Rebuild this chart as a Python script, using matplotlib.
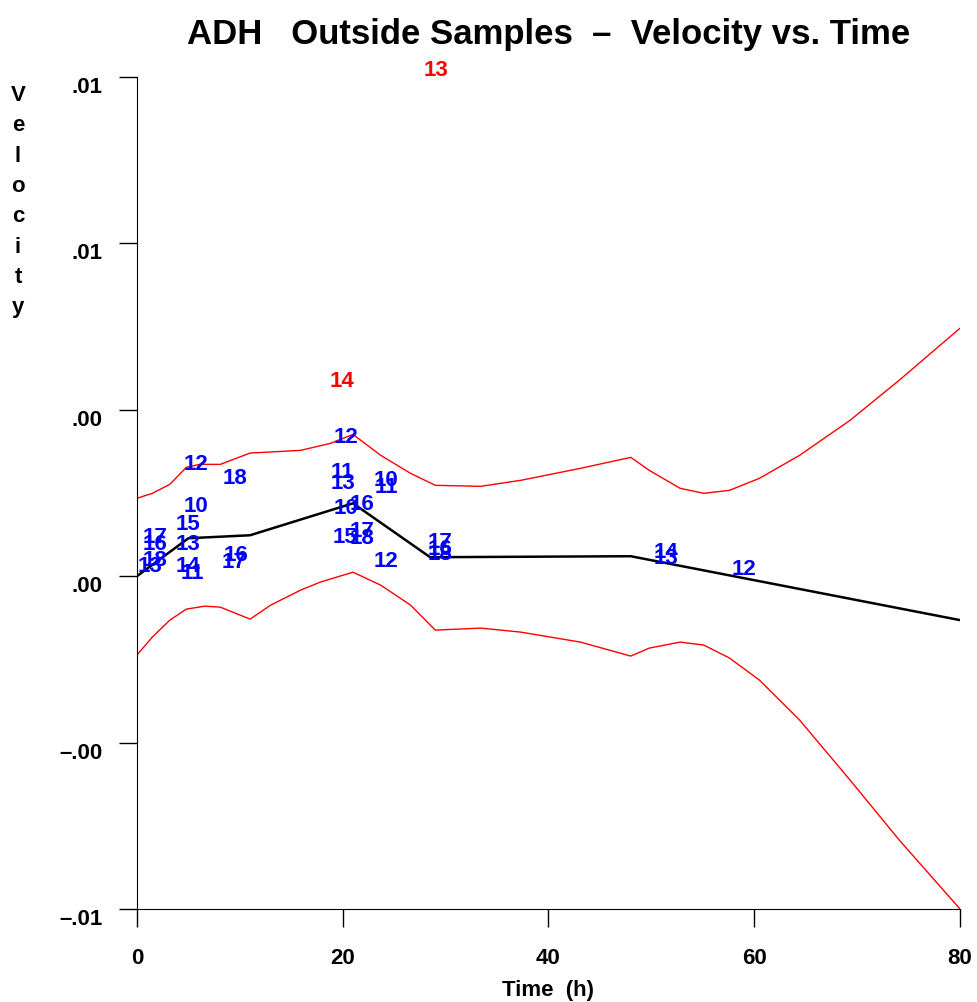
import matplotlib
matplotlib.use("Agg")
import matplotlib.pyplot as plt

# ---- DATA ----
# mean velocity curve
mean_t = [0, 5, 11, 21, 28.5, 48, 80]
mean_v = [0, 0.00114, 0.00123, 0.00219, 0.00057, 0.0006, -0.00132]

# upper and lower bands
upper_t = [0, 1.5, 3.2, 4.8, 6.1, 8.1, 11, 15.9, 18.8, 21, 23.7, 26.6, 29, 33.4, 37.3, 43.1, 48,
           49.8, 52.8, 55.1, 57.6, 60.5, 64.4, 69.3, 74.1, 80]
upper_v = [0.00234, 0.00249, 0.00276, 0.00327, 0.00336, 0.00336, 0.0037, 0.00378, 0.00399, 0.00426,
           0.00363, 0.00309, 0.00273, 0.0027, 0.00288, 0.00324, 0.00357, 0.00318, 0.00264,
           0.00249, 0.00258, 0.00294, 0.00363, 0.00468, 0.00589, 0.00745]
lower_t = [0, 1.5, 3.2, 4.8, 6.6, 8.1, 11, 13, 15.9, 17.8, 21, 23.7, 26.6, 29, 33.4, 37.3, 43.1,
           48, 49.8, 52.8, 55.1, 57.6, 60.5, 64.4, 69.3, 74.1, 80]
lower_v = [-0.00237, -0.00183, -0.00132, -0.00099, -0.0009, -0.00093, -0.00129, -0.00087,
           -0.00042, -0.00018, 0.00012, -0.00027, -0.00087, -0.00162, -0.00156, -0.00168,
           -0.00198, -0.0024, -0.00216, -0.00198, -0.00207, -0.00246, -0.00312, -0.00432,
           -0.00612, -0.00793, -0.01]

# sample labels (blue = inside band, red = outside)
lab_text = ["12", "18", "10", "15", "17", "16", "18", "13", "13", "14", "11", "16", "17",
            "12", "11", "13", "10", "11", "10", "16", "15", "17", "18", "12",
            "17", "16", "18", "14", "13", "12"]
lab_t = [5.7, 9.5, 5.7, 5.0, 1.8, 1.8, 1.75, 1.3, 5.0, 5.0, 5.4, 9.6, 9.4,
         20.3, 20.0, 20.0, 24.2, 24.2, 20.3, 21.9, 20.2, 21.9, 21.9, 24.2,
         29.5, 29.5, 29.5, 51.4, 51.4, 59.0]
lab_v = [0.00336, 0.00294, 0.0021, 0.00156, 0.00117, 0.00096, 0.00048, 0.0003, 0.00096,
         0.0003, 0.00009, 0.00063, 0.00042, 0.00417, 0.00312, 0.00279, 0.00288, 0.00267,
         0.00204, 0.00216, 0.00117, 0.00135, 0.00114, 0.00045, 0.00102, 0.00081, 0.00066,
         0.00072, 0.00054, 0.00021]
out_text = ["13", "14"]
out_t = [29.1, 19.9]
out_v = [0.0152, 0.00586]

y_ticks = [0.015, 0.01, 0.005, 0, -0.005, -0.01]
y_tick_labels = [".01", ".01", ".00", ".00", "\u2013.00", "\u2013.01"]
x_ticks = [0, 20, 40, 60, 80]

plt.rcParams["font.family"] = ["Liberation Sans", "DejaVu Sans"]
plt.rcParams["font.weight"] = "bold"

fig = plt.figure(figsize=(9.78, 10.02), dpi=100)
ax = fig.add_axes([0.140, 0.0928, 0.8416, 0.8304])

ax.plot(upper_t, upper_v, color="red", lw=1)
ax.plot(lower_t, lower_v, color="red", lw=1)
ax.plot(mean_t, mean_v, color="black", lw=1.8)

for s, t, v in zip(lab_text, lab_t, lab_v):
    ax.text(t, v, s, color="#0000ff", fontsize=16, ha="center", va="center")
for s, t, v in zip(out_text, out_t, out_v):
    ax.text(t, v, s, color="red", fontsize=16, ha="center", va="center", clip_on=False)

ax.set_xlim(0, 80)
ax.set_ylim(-0.01, 0.015)
ax.set_xticks(x_ticks)
ax.set_yticks(y_ticks)
ax.set_yticklabels(y_tick_labels, va="top")
ax.tick_params(labelsize=16, length=13, width=1)
ax.tick_params(axis="y", pad=12)
ax.tick_params(axis="x", pad=15)
for side in ["top", "right"]:
    ax.spines[side].set_visible(False)

ax.set_xlabel("Time  (h)", fontsize=16, fontweight="bold", labelpad=8)
fig.text(0.0184, 0.915, "\n".join("Velocity"), fontsize=16, ha="center", va="top",
         linespacing=1.58)
fig.text(0.561, 0.966, "ADH   Outside Samples  \u2013  Velocity vs. Time", fontsize=25,
         ha="center", va="center")

fig.savefig("out.png", dpi=100)
